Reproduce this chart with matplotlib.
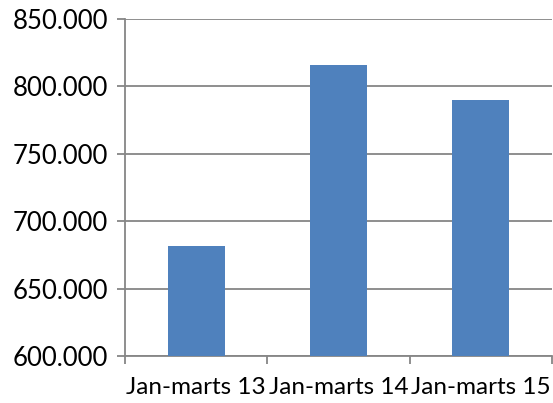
import matplotlib
matplotlib.use("Agg")
import matplotlib.pyplot as plt
import numpy as np

# data
categories = ["Jan-marts 13", "Jan-marts 14", "Jan-marts 15"]
values = [682000, 816000, 790000]
yticks = [600000, 650000, 700000, 750000, 800000, 850000]

plt.rcParams['font.family'] = ['Lato', 'DejaVu Sans']

fig = plt.figure(figsize=(5.53, 4.03), dpi=100)
ax = fig.add_axes([0.226, 0.1166, 0.772, 0.836])

x = np.arange(len(categories))
ax.bar(x, values, width=0.4, color="#4F81BD", zorder=3)

ax.set_xlim(-0.5, len(categories) - 0.5)
ax.set_ylim(yticks[0], yticks[-1])
ax.set_yticks(yticks)
ax.set_yticklabels([f"{v:,}".replace(",", ".") for v in yticks])
ax.yaxis.grid(True, color="#868686", linewidth=1.3, zorder=0)

ax.set_xticks(x)
ax.set_xticklabels(categories)
ax.set_xticks(np.arange(len(categories) + 1) - 0.5, minor=True)
ax.tick_params(axis="x", which="major", length=0, pad=15)
ax.tick_params(axis="x", which="minor", length=6, color="#868686", width=1.3)
ax.tick_params(axis="y", length=6, color="#868686", width=1.3, pad=6)
ax.tick_params(axis="y", labelsize=18.5, labelcolor="black")
ax.tick_params(axis="x", labelsize=17.5, labelcolor="black")

for s in ["top", "right"]:
    ax.spines[s].set_visible(False)
for s in ["left", "bottom"]:
    ax.spines[s].set_color("#868686")
    ax.spines[s].set_linewidth(1.3)

fig.savefig("out.png", dpi=100)
